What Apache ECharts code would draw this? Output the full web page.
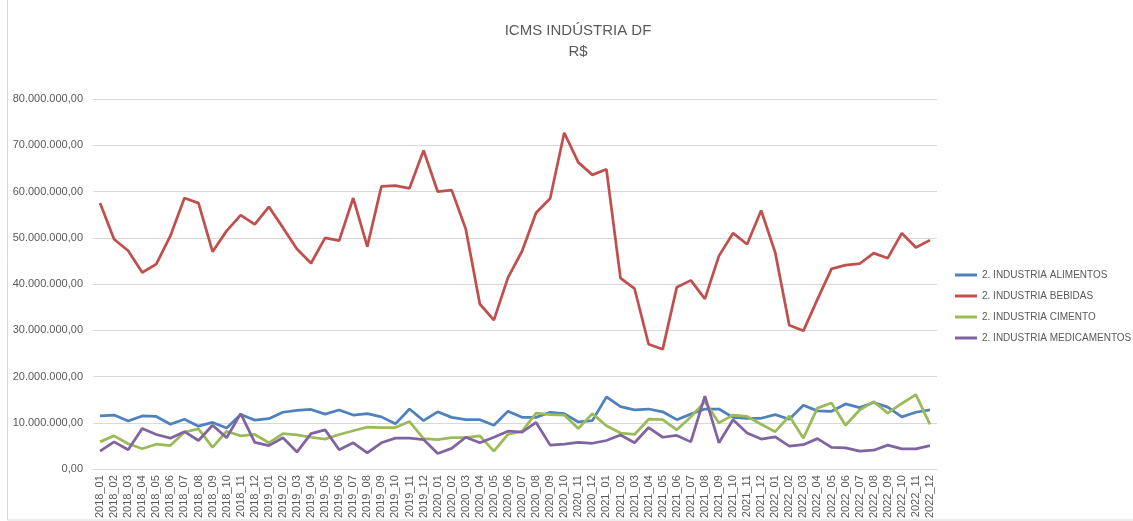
<!DOCTYPE html>
<html>
<head>
<meta charset="utf-8">
<script src="https://cdn.jsdelivr.net/npm/echarts@6/dist/echarts.min.js"></script>
<style>
  html, body { margin: 0; padding: 0; background: #fff; }
  #main { width: 1133px; height: 521px; }
</style>
</head>
<body>
<div id="main"></div>
<script>
// months 2018_01 .. 2022_12
const years = ["2018", "2019", "2020", "2021", "2022"];
const monthNums = ["01", "02", "03", "04", "05", "06", "07", "08", "09", "10", "11", "12"];
const categories = [];
years.forEach(function (y) {
  monthNums.forEach(function (m) { categories.push(y + "_" + m); });
});

// values in millions of R$
const alimentos = [
  11.5, 11.7, 10.4, 11.5, 11.4, 9.7, 10.8, 9.3, 10.1, 8.9,
  11.8, 10.6, 10.9, 12.3, 12.7, 12.9, 11.9, 12.8, 11.7, 12.0,
  11.3, 9.8, 13.0, 10.5, 12.4, 11.2, 10.7, 10.7, 9.5, 12.5,
  11.2, 11.2, 12.3, 12.0, 10.2, 10.5, 15.6, 13.5, 12.8, 13.0,
  12.4, 10.7, 11.9, 13.0, 13.0, 11.2, 11.0, 11.0, 11.8, 10.8,
  13.8, 12.6, 12.5, 14.1, 13.3, 14.4, 13.4, 11.3, 12.3, 12.8
];
const bebidas = [
  57.5, 49.7, 47.2, 42.5, 44.3, 50.4, 58.6, 57.5, 47.0, 51.5,
  54.9, 52.9, 56.7, 52.2, 47.6, 44.5, 50.0, 49.4, 58.6, 48.1,
  61.1, 61.3, 60.7, 68.9, 60.0, 60.3, 51.9, 35.7, 32.2, 41.4,
  47.1, 55.4, 58.5, 72.7, 66.3, 63.6, 64.8, 41.3, 39.0, 27.0,
  25.9, 39.3, 40.8, 36.8, 46.1, 51.0, 48.6, 55.9, 46.8, 31.1,
  29.9, 36.7, 43.3, 44.1, 44.4, 46.7, 45.6, 51.0, 47.9, 49.5
];
const cimento = [
  5.9, 7.2, 5.5, 4.4, 5.4, 5.1, 8.0, 8.7, 4.7, 8.2,
  7.2, 7.5, 5.7, 7.7, 7.4, 6.9, 6.5, 7.5, 8.3, 9.1,
  9.0, 9.0, 10.3, 6.6, 6.4, 6.8, 6.8, 7.2, 3.9, 7.5,
  8.2, 12.1, 11.8, 11.7, 8.8, 12.0, 9.4, 7.8, 7.5, 10.8,
  10.7, 8.5, 11.3, 14.6, 10.0, 11.7, 11.4, 9.7, 8.1, 11.5,
  6.7, 13.2, 14.3, 9.5, 12.8, 14.6, 12.1, 14.2, 16.1, 9.7
];
const medicamentos = [
  3.9, 5.9, 4.2, 8.8, 7.5, 6.7, 8.1, 6.2, 9.5, 6.8,
  12.0, 5.8, 5.1, 6.8, 3.7, 7.7, 8.5, 4.2, 5.7, 3.5,
  5.7, 6.7, 6.7, 6.4, 3.4, 4.5, 6.9, 5.7, 6.9, 8.2,
  8.0, 10.1, 5.2, 5.4, 5.8, 5.6, 6.2, 7.4, 5.7, 9.0,
  6.9, 7.3, 5.9, 15.8, 5.7, 10.7, 7.8, 6.5, 7.0, 5.0,
  5.3, 6.6, 4.7, 4.6, 3.9, 4.1, 5.2, 4.4, 4.4, 5.1
];

const seriesNames = [
  "2. INDUSTRIA ALIMENTOS",
  "2. INDUSTRIA BEBIDAS",
  "2. INDUSTRIA CIMENTO",
  "2. INDUSTRIA MEDICAMENTOS"
];
const seriesData = [alimentos, bebidas, cimento, medicamentos];
const colors = ["#4F81BD", "#C0504D", "#9BBB59", "#8064A2"];

const textColor = "#595959";
const fontFamily = "'Liberation Sans', Arial, sans-serif";

// 80000000 -> "80.000.000,00"
function brl(v) {
  const s = Math.round(v).toString().replace(/\B(?=(\d{3})+(?!\d))/g, ".");
  return s + ",00";
}

const chart = echarts.init(document.getElementById("main"));

const option = {
  animation: false,
  color: colors,
  textStyle: { fontFamily: fontFamily },
  title: {
    text: "ICMS INDÚSTRIA DF\nR$",
    left: 573,
    textAlign: "center",
    top: 15,
    textStyle: {
      color: textColor,
      fontSize: 15,
      fontWeight: "normal",
      lineHeight: 21,
      fontFamily: fontFamily
    }
  },
  graphic: [
    {
      type: "rect",
      shape: { x: 7.5, y: -5, width: 1200, height: 525 },
      style: { fill: null, stroke: "#d9d9d9", lineWidth: 1 },
      silent: true
    }
  ],
  legend: {
    orient: "vertical",
    left: 950,
    top: 265,
    itemWidth: 22,
    itemHeight: 3,
    itemGap: 11,
    icon: "rect",
    textStyle: { color: textColor, fontSize: 10, fontFamily: fontFamily },
    data: seriesNames
  },
  grid: {
    left: 93,
    right: 196,
    top: 99,
    bottom: 49.5
  },
  xAxis: {
    type: "category",
    data: categories,
    boundaryGap: true,
    axisLine: { lineStyle: { color: "#d9d9d9", width: 1 } },
    axisTick: { show: false },
    axisLabel: {
      interval: 0,
      rotate: 90,
      color: textColor,
      fontSize: 11,
      margin: 6
    }
  },
  yAxis: {
    type: "value",
    min: 0,
    max: 80000000,
    interval: 10000000,
    axisLine: { show: false },
    axisTick: { show: false },
    splitLine: { lineStyle: { color: "#d9d9d9", width: 1 } },
    axisLabel: {
      color: textColor,
      fontSize: 11,
      margin: 10,
      formatter: brl
    }
  },
  series: seriesNames.map(function (name, k) {
    return {
      name: name,
      type: "line",
      symbol: "none",
      data: seriesData[k].map(function (v) { return Math.round(v * 1000000); }),
      lineStyle: { width: 2.75, color: colors[k] },
      itemStyle: { color: colors[k] }
    };
  })
};

chart.setOption(option);
</script>
</body>
</html>
